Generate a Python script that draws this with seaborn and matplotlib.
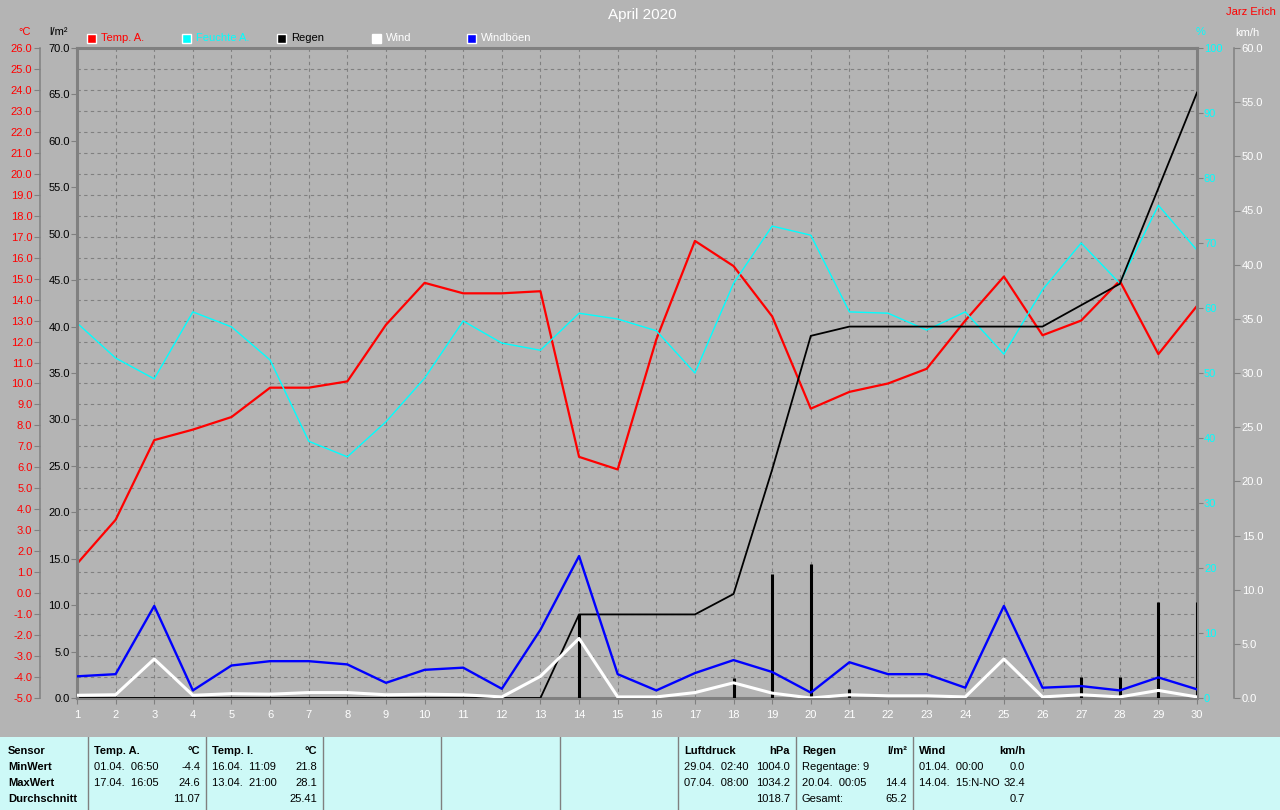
import numpy as np
import pandas as pd
import seaborn as sns
import matplotlib.pyplot as plt
from matplotlib.patches import Rectangle

# Tageswerte April 2020
days = list(range(1, 31))
temp_a = [1.4, 3.5, 7.3, 7.8, 8.4, 9.8, 9.8, 10.1, 12.8, 14.8, 14.3, 14.3, 14.4, 6.5, 5.9,
          12.1, 16.8, 15.6, 13.2, 8.8, 9.6, 10.0, 10.7, 13.0, 15.1, 12.3, 13.0, 14.9, 11.4, 13.7]
feuchte = [57.7, 52.3, 49.1, 59.4, 57.1, 52.0, 39.5, 37.1, 42.5, 49.2, 58.0, 54.6, 53.5, 59.2, 58.3,
           56.5, 50.0, 63.8, 72.6, 71.2, 59.4, 59.2, 56.6, 59.4, 52.9, 62.8, 70.0, 63.8, 75.8, 68.9]
regen = [0, 0, 0, 0, 0, 0, 0, 0, 0, 0, 0, 0, 0, 9.0, 0,
         0, 0, 2.2, 13.4, 14.4, 1.0, 0, 0, 0, 0, 0, 2.3, 2.3, 10.3, 10.3]
wind = [0.25, 0.3, 3.6, 0.25, 0.4, 0.35, 0.5, 0.5, 0.3, 0.35, 0.3, 0.1, 2.0, 5.5, 0.1,
        0.1, 0.5, 1.4, 0.45, 0.0, 0.3, 0.2, 0.2, 0.1, 3.6, 0.1, 0.3, 0.1, 0.7, 0.1]
boeen = [2.0, 2.2, 8.5, 0.7, 3.0, 3.4, 3.4, 3.1, 1.4, 2.6, 2.8, 0.85, 6.3, 13.1, 2.2,
         0.7, 2.3, 3.5, 2.4, 0.5, 3.3, 2.2, 2.2, 0.95, 8.5, 0.95, 1.1, 0.7, 1.9, 0.8]

legend_labels = ["Temp. A.", "Feuchte A.", "Regen", "Wind", "Windböen"]
legend_colors = ["#FF0000", "#00FFFF", "#000000", "#FFFFFF", "#0000FF"]
legend_text_colors = ["#FF0000", "#00FFFF", "#000000", "#FFFFFF", "#FFFFFF"]

# Tabelle unten
tab_first = ["Sensor", "MinWert", "MaxWert", "Durchschnitt"]
tab_cols = {
    1: (["Temp. A.", "01.04.  06:50", "17.04.  16:05", ""], ["°C", "-4.4", "24.6", "11.07"]),
    2: (["Temp. I.", "16.04.  11:09", "13.04.  21:00", ""], ["°C", "21.8", "28.1", "25.41"]),
    6: (["Luftdruck", "29.04.  02:40", "07.04.  08:00", ""], ["hPa", "1004.0", "1034.2", "1018.7"]),
    7: (["Regen", "Regentage: 9", "20.04.  00:05", "Gesamt:"], ["l/m²", "", "14.4", "65.2"]),
    8: (["Wind", "01.04.  00:00", "14.04.  15:N-NO", ""], ["km/h", "0.0", "32.4", "0.7"]),
}

df = pd.DataFrame({"Tag": days, "Temp": temp_a, "Feuchte": feuchte, "Regen": regen,
                   "RegenSumme": np.cumsum(regen), "Wind": wind, "Boeen": boeen})

plt.rcParams['font.family'] = ['Liberation Sans', 'DejaVu Sans']
BG = "#B4B4B4"
FRAME = "#808080"
W, H = 1280, 810
FS = 8


def px(x, y):
    return x / W, 1 - y / H


fig = plt.figure(figsize=(12.8, 8.1), dpi=100, facecolor=BG)
ax = fig.add_axes([77 / W, 1 - 698 / H, 1120 / W, 650 / H])
ax.set_facecolor(BG)

# Temperatur (Hauptachse, links aussen)
sns.lineplot(data=df, x="Tag", y="Temp", ax=ax, color="#FF0000", linewidth=1.6)
ax.set_xlim(1, 30)
ax.set_ylim(-5, 26)
ax.set_yticks(np.arange(-5, 27, 1))
ax.set_yticklabels([f"{v:.1f}" for v in np.arange(-5, 27, 1)])
ax.set_xticks(days)
ax.set_xlabel("")
ax.set_ylabel("")
ax.grid(True, color=FRAME, linestyle=(0, (3, 3)), linewidth=0.8)
ax.set_axisbelow(True)
ax.spines['left'].set_position(('axes', -37 / 1120))
ax.spines['left'].set_color(FRAME)
ax.spines['left'].set_linewidth(1.1)
ax.spines['right'].set_visible(False)
for s in ['top', 'bottom']:
    ax.spines[s].set_color(FRAME)
    ax.spines[s].set_linewidth(2.2)
ax.tick_params(axis='y', direction='out', length=4, color=FRAME, labelcolor="#FF0000",
               labelsize=FS, pad=1.5)
ax.tick_params(axis='x', direction='out', length=4, color=FRAME, labelcolor="white",
               labelsize=FS, pad=4.5)

# Feuchte (rechts)
axh = ax.twinx()
sns.lineplot(data=df, x="Tag", y="Feuchte", ax=axh, color="#00FFFF", linewidth=1.0)
axh.set_ylim(0, 100)
axh.set_yticks(np.arange(0, 101, 10))
axh.set_ylabel("")
for s in ['top', 'bottom', 'left']:
    axh.spines[s].set_visible(False)
axh.spines['right'].set_color(FRAME)
axh.spines['right'].set_linewidth(2.2)
axh.tick_params(axis='y', direction='out', length=4, color=FRAME, labelcolor="#00FFFF",
                labelsize=FS, pad=1)

# Regen (links, am Rahmen)
axr = ax.twinx()
axr.vlines(df["Tag"][df["Regen"] > 0], 0, df["Regen"][df["Regen"] > 0], color="black", linewidth=2.2)
sns.lineplot(data=df, x="Tag", y="RegenSumme", ax=axr, color="black", linewidth=1.3)
axr.set_ylim(0, 70)
axr.set_yticks(np.arange(0, 71, 5))
axr.set_yticklabels([f"{v:.1f}" for v in np.arange(0, 71, 5)])
axr.set_ylabel("")
axr.yaxis.set_ticks_position('left')
axr.yaxis.set_label_position('left')
for s in ['top', 'bottom', 'right']:
    axr.spines[s].set_visible(False)
axr.spines['left'].set_visible(True)
axr.spines['left'].set_color(FRAME)
axr.spines['left'].set_linewidth(2.2)
axr.tick_params(axis='y', direction='out', length=4, color=FRAME, labelcolor="black",
                labelsize=FS, pad=1)

# Wind / Böen (rechts aussen)
axw = ax.twinx()
sns.lineplot(data=df, x="Tag", y="Wind", ax=axw, color="white", linewidth=2.2)
sns.lineplot(data=df, x="Tag", y="Boeen", ax=axw, color="#0000FF", linewidth=1.7)
axw.set_ylim(0, 60)
axw.set_yticks(np.arange(0, 61, 5))
axw.set_yticklabels([f"{v:.1f}" for v in np.arange(0, 61, 5)])
axw.set_ylabel("")
for s in ['top', 'bottom', 'left']:
    axw.spines[s].set_visible(False)
axw.spines['right'].set_position(('axes', 1 + 37 / 1120))
axw.spines['right'].set_color(FRAME)
axw.spines['right'].set_linewidth(1.1)
axw.tick_params(axis='y', direction='out', length=4, color=FRAME, labelcolor="white",
                labelsize=FS, pad=1.5)
ax.set_xlim(1, 30)

# Titel, Einheiten
fig.text(*px(642, 15), "April 2020", color="white", fontsize=11, ha="center", va="center")
fig.text(*px(1276, 12), "Jarz Erich", color="#FF0000", fontsize=FS, ha="right", va="center")
fig.text(*px(25, 32), "°C", color="#FF0000", fontsize=FS, ha="center", va="center")
fig.text(*px(58, 32), "l/m²", color="black", fontsize=FS, ha="center", va="center")
fig.text(*px(1201, 32), "%", color="#00FFFF", fontsize=FS, ha="center", va="center")
fig.text(*px(1247, 33), "km/h", color="white", fontsize=FS, ha="center", va="center")

# Legende
for i, (lab, col, tcol) in enumerate(zip(legend_labels, legend_colors, legend_text_colors)):
    x0 = 87 + i * 95
    fig.patches.append(Rectangle(px(x0, 43), 9 / W, 9 / H, transform=fig.transFigure,
                                 facecolor=col, edgecolor="white", linewidth=1.0))
    fig.text(*px(x0 + 14, 38), lab, color=tcol, fontsize=FS, ha="left", va="center")

# Tabelle
tab = fig.add_axes([0, 0, 1, 73 / H])
tab.set_facecolor("#CDF9F7")
tab.set_xlim(0, W)
tab.set_ylim(810, 737)
tab.set_xticks([])
tab.set_yticks([])
for s in tab.spines.values():
    s.set_visible(False)
seps = [88, 206, 323, 441, 560, 678, 796, 913, 1031]
for xs in seps[:-1]:
    tab.axvline(xs, color=FRAME, linewidth=1.0)
rows_y = [751, 767, 783, 799]
for y, lab in zip(rows_y, tab_first):
    tab.text(8, y, lab, fontsize=FS, fontweight="bold", color="black", va="center", ha="left")
for ci, (left_txt, right_txt) in tab_cols.items():
    xl = seps[ci - 1] + 6
    xr = seps[ci] - 6
    for r, (lt, rt) in enumerate(zip(left_txt, right_txt)):
        fw = "bold" if r == 0 else "normal"
        tab.text(xl, rows_y[r], lt, fontsize=FS, fontweight=fw, color="black", va="center", ha="left")
        tab.text(xr, rows_y[r], rt, fontsize=FS, fontweight=fw, color="black", va="center", ha="right")

fig.savefig("out.png", dpi=100, facecolor=BG)
